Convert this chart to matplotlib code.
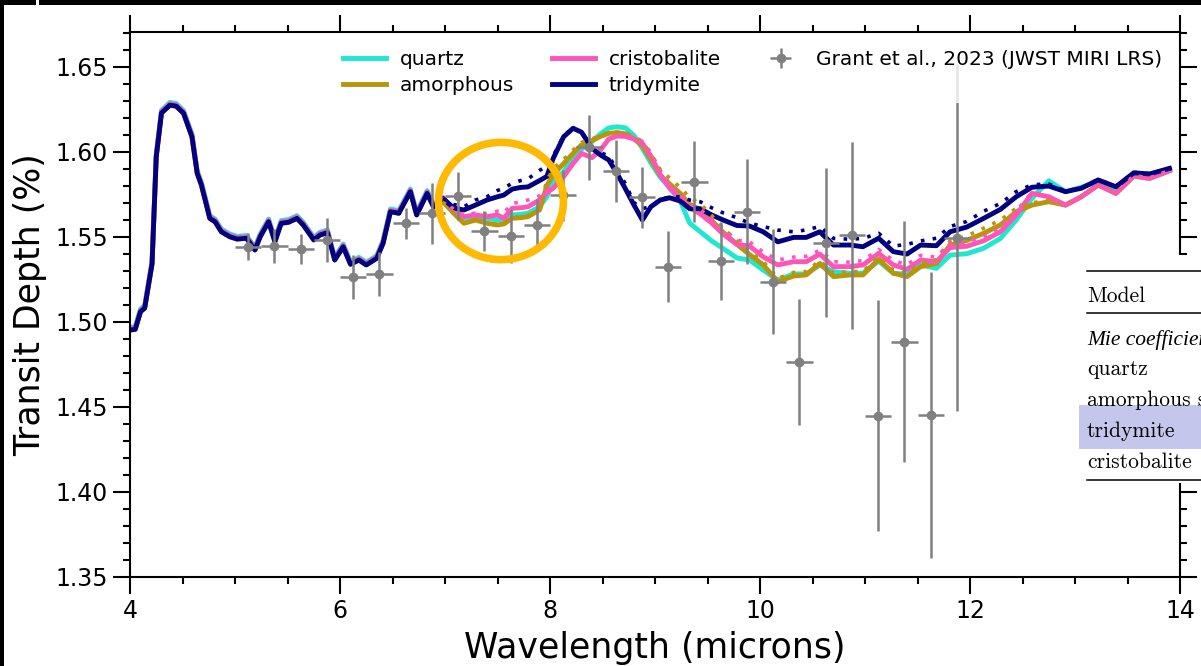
import numpy as np
import matplotlib.pyplot as plt
from matplotlib.patches import Ellipse, Rectangle
from matplotlib.lines import Line2D
from matplotlib.ticker import MultipleLocator, FormatStrFormatter

# model spectra: below 7 micron all four models overlap
wl_short = [4.00, 4.05, 4.10, 4.14, 4.21, 4.25, 4.30, 4.38, 4.44, 4.51,
            4.59, 4.64, 4.68, 4.76, 4.81, 4.87, 4.95, 5.02, 5.11, 5.19,
            5.24, 5.32, 5.38, 5.44, 5.51, 5.59, 5.65, 5.75, 5.81, 5.88,
            5.95, 6.03, 6.10, 6.18, 6.25, 6.35, 6.41, 6.48, 6.56, 6.67,
            6.73, 6.83, 6.89]
depth_short = [1.4951, 1.4955, 1.5059, 1.5080, 1.5340, 1.5970, 1.6228, 1.6274, 1.6268, 1.6226,
               1.6088, 1.5873, 1.5804, 1.5608, 1.5588, 1.5529, 1.5500, 1.5486, 1.5491, 1.5422,
               1.5500, 1.5588, 1.5471, 1.5579, 1.5585, 1.5608, 1.5569, 1.5481, 1.5510, 1.5524,
               1.5363, 1.5441, 1.5338, 1.5363, 1.5334, 1.5373, 1.5461, 1.5647, 1.5638, 1.5765,
               1.5628, 1.5755, 1.5676]
# quartz / cristobalite sit a hair above tridymite there
quartz_shift = 0.0016
cristobalite_shift = 0.0008

wl_long = [6.98, 7.08, 7.18, 7.29, 7.40, 7.50, 7.56, 7.64, 7.72, 7.79,
           7.90, 7.97, 8.03, 8.13, 8.22, 8.30, 8.40, 8.48, 8.56, 8.64,
           8.72, 8.80, 8.88, 8.96, 9.05, 9.14, 9.24, 9.33, 9.43, 9.54,
           9.65, 9.78, 9.90, 10.03, 10.17, 10.32, 10.44, 10.57, 10.70, 10.86,
           10.98, 11.13, 11.27, 11.40, 11.53, 11.68, 11.81, 11.97, 12.13, 12.29,
           12.44, 12.59, 12.75, 12.91, 13.06, 13.22, 13.39, 13.56, 13.71, 13.90]

quartz_long = [1.5728, 1.5655, 1.5608, 1.5618, 1.5608, 1.5598, 1.5600, 1.5628, 1.5632, 1.5638,
               1.5676, 1.5735, 1.5824, 1.5882, 1.5971, 1.6015, 1.6060, 1.6105, 1.6140, 1.6147,
               1.6140, 1.6095, 1.6020, 1.5935, 1.5850, 1.5787, 1.5710, 1.5580, 1.5530, 1.5475,
               1.5430, 1.5375, 1.5363, 1.5304, 1.5245, 1.5281, 1.5281, 1.5334, 1.5294, 1.5285,
               1.5285, 1.5357, 1.5285, 1.5280, 1.5334, 1.5314, 1.5392, 1.5400, 1.5432, 1.5490,
               1.5598, 1.5726, 1.5829, 1.5765, 1.5791, 1.5824, 1.5765, 1.5870, 1.5860, 1.5895]
amorphous_long = [1.5706, 1.5640, 1.5579, 1.5598, 1.5579, 1.5569, 1.5575, 1.5608, 1.5612, 1.5618,
                  1.5657, 1.5800, 1.5865, 1.5931, 1.5990, 1.6040, 1.6065, 1.6090, 1.6108, 1.6112,
                  1.6105, 1.6075, 1.6035, 1.5955, 1.5860, 1.5810, 1.5755, 1.5690, 1.5660, 1.5595,
                  1.5525, 1.5455, 1.5395, 1.5335, 1.5235, 1.5269, 1.5275, 1.5343, 1.5265, 1.5275,
                  1.5275, 1.5367, 1.5285, 1.5265, 1.5324, 1.5343, 1.5451, 1.5478, 1.5520, 1.5569,
                  1.5647, 1.5686, 1.5706, 1.5686, 1.5735, 1.5804, 1.5755, 1.5857, 1.5843, 1.5888]
cristobalite_long = [1.5730, 1.5660, 1.5618, 1.5628, 1.5618, 1.5628, 1.5608, 1.5667, 1.5670, 1.5676,
                     1.5716, 1.5760, 1.5785, 1.5853, 1.5931, 1.5990, 1.5965, 1.6010, 1.6075, 1.6092,
                     1.6090, 1.6075, 1.6050, 1.5975, 1.5865, 1.5785, 1.5725, 1.5670, 1.5635, 1.5580,
                     1.5515, 1.5455, 1.5445, 1.5382, 1.5334, 1.5353, 1.5353, 1.5398, 1.5324, 1.5324,
                     1.5334, 1.5402, 1.5334, 1.5308, 1.5363, 1.5353, 1.5436, 1.5444, 1.5476, 1.5529,
                     1.5628, 1.5755, 1.5735, 1.5686, 1.5735, 1.5804, 1.5755, 1.5857, 1.5843, 1.5888]
tridymite_long = [1.5726, 1.5670, 1.5657, 1.5686, 1.5716, 1.5735, 1.5745, 1.5780, 1.5790, 1.5793,
                  1.5830, 1.5855, 1.5960, 1.6088, 1.6138, 1.6115, 1.6020, 1.5981, 1.5951, 1.5870,
                  1.5780, 1.5686, 1.5598, 1.5676, 1.5716, 1.5729, 1.5710, 1.5665, 1.5665, 1.5628,
                  1.5598, 1.5566, 1.5563, 1.5529, 1.5470, 1.5496, 1.5496, 1.5529, 1.5451, 1.5451,
                  1.5441, 1.5491, 1.5412, 1.5398, 1.5451, 1.5447, 1.5529, 1.5557, 1.5608, 1.5661,
                  1.5735, 1.5791, 1.5798, 1.5765, 1.5785, 1.5834, 1.5794, 1.5876, 1.5869, 1.5902]

# dotted (second) model set
amorphous_dot = [1.5706, 1.5642, 1.5582, 1.5600, 1.5582, 1.5572, 1.5580, 1.5612, 1.5618, 1.5625,
                 1.5670, 1.5830, 1.5900, 1.5955, 1.6010, 1.6055, 1.6075, 1.6095, 1.6112, 1.6116,
                 1.6112, 1.6090, 1.6060, 1.5985, 1.5895, 1.5845, 1.5790, 1.5730, 1.5695, 1.5625,
                 1.5550, 1.5475, 1.5415, 1.5355, 1.5255, 1.5290, 1.5295, 1.5360, 1.5285, 1.5295,
                 1.5295, 1.5385, 1.5305, 1.5285, 1.5345, 1.5365, 1.5475, 1.5505, 1.5550, 1.5598,
                 1.5668, 1.5700, 1.5712, 1.5690, 1.5738, 1.5806, 1.5757, 1.5859, 1.5845, 1.5890]
cristobalite_dot = [1.5730, 1.5662, 1.5625, 1.5640, 1.5635, 1.5650, 1.5640, 1.5696, 1.5705, 1.5716,
                    1.5740, 1.5780, 1.5800, 1.5860, 1.5935, 1.5992, 1.5970, 1.6015, 1.6078, 1.6095,
                    1.6095, 1.6085, 1.6060, 1.5995, 1.5890, 1.5810, 1.5750, 1.5695, 1.5660, 1.5605,
                    1.5545, 1.5480, 1.5470, 1.5410, 1.5363, 1.5380, 1.5385, 1.5420, 1.5353, 1.5350,
                    1.5360, 1.5425, 1.5360, 1.5335, 1.5390, 1.5380, 1.5462, 1.5470, 1.5500, 1.5555,
                    1.5650, 1.5760, 1.5738, 1.5688, 1.5737, 1.5806, 1.5757, 1.5859, 1.5845, 1.5890]
tridymite_dot = [1.5726, 1.5690, 1.5676, 1.5716, 1.5735, 1.5772, 1.5785, 1.5815, 1.5830, 1.5840,
                 1.5890, 1.5915, 1.5975, 1.6095, 1.6138, 1.6115, 1.6025, 1.5995, 1.5975, 1.5890,
                 1.5810, 1.5700, 1.5665, 1.5678, 1.5718, 1.5735, 1.5735, 1.5716, 1.5706, 1.5670,
                 1.5640, 1.5612, 1.5580, 1.5560, 1.5539, 1.5529, 1.5540, 1.5560, 1.5490, 1.5485,
                 1.5490, 1.5520, 1.5445, 1.5455, 1.5475, 1.5491, 1.5560, 1.5590, 1.5650, 1.5696,
                 1.5765, 1.5806, 1.5810, 1.5768, 1.5787, 1.5836, 1.5796, 1.5878, 1.5871, 1.5903]

# Grant et al. 2023, JWST MIRI LRS
obs_wl = [5.125, 5.375, 5.625, 5.875, 6.125, 6.375, 6.625, 6.875, 7.125, 7.375,
          7.625, 7.875, 8.125, 8.375, 8.625, 8.875, 9.125, 9.375, 9.625, 9.875,
          10.125, 10.375, 10.625, 10.875, 11.125, 11.375, 11.625, 11.875]
obs_depth = [1.5441, 1.5447, 1.5428, 1.5481, 1.5265, 1.5281, 1.5579, 1.5638, 1.5739, 1.5534,
             1.5504, 1.5569, 1.5745, 1.6026, 1.5887, 1.5732, 1.5324, 1.5824, 1.5357, 1.5647,
             1.5235, 1.4765, 1.5465, 1.5510, 1.4447, 1.4882, 1.4451, 1.5494]
obs_err = [0.008, 0.010, 0.009, 0.013, 0.013, 0.013, 0.009, 0.018, 0.014, 0.012,
           0.016, 0.015, 0.015, 0.019, 0.018, 0.018, 0.021, 0.024, 0.023, 0.031,
           0.031, 0.037, 0.044, 0.055, 0.068, 0.071, 0.084, 0.102]
obs_wl_err = 0.125

colors = {'quartz': '#1ee8cf', 'amorphous': '#b8960c',
          'cristobalite': '#ff55b8', 'tridymite': '#000080'}

W, H = 1201, 666
fig = plt.figure(figsize=(W / 100, H / 100), dpi=100)
ax = fig.add_axes([130 / W, 1 - 576.7 / H, 1050 / W, 545 / H])

wl = np.array(wl_short + wl_long)
short = np.array(depth_short)
series = {
    'quartz': np.concatenate([short + quartz_shift, quartz_long]),
    'amorphous': np.concatenate([short, amorphous_long]),
    'cristobalite': np.concatenate([short + cristobalite_shift, cristobalite_long]),
    'tridymite': np.concatenate([short, tridymite_long]),
}
handles = []
for name in ['quartz', 'amorphous', 'cristobalite', 'tridymite']:
    ln, = ax.plot(wl, series[name], color=colors[name], lw=3.5, label=name, zorder=2)
    handles.append(ln)

dots = {'amorphous': amorphous_dot, 'cristobalite': cristobalite_dot,
        'tridymite': tridymite_dot}
for name, vals in dots.items():
    ax.plot(wl_long, vals, color=colors[name], lw=2.6, ls=(0, (1, 2.3)), zorder=2.5)

eb = ax.errorbar(obs_wl, obs_depth, yerr=obs_err, xerr=obs_wl_err, fmt='o', color='gray',
                 ms=6, elinewidth=1.8, capsize=0, zorder=4,
                 label='Grant et al., 2023 (JWST MIRI LRS)')
handles.append(eb)

# highlighted region
ax.add_patch(Ellipse((7.533, 1.571), 1.19, 0.0690, fill=False,
                     edgecolor='#ffb900', lw=5.5, zorder=10))

ax.set_xlim(4, 14)
ax.set_ylim(1.35, 1.6706)
ax.xaxis.set_major_locator(MultipleLocator(2))
ax.xaxis.set_minor_locator(MultipleLocator(0.5))
ax.yaxis.set_major_locator(MultipleLocator(0.05))
ax.yaxis.set_minor_locator(MultipleLocator(0.01))
ax.yaxis.set_major_formatter(FormatStrFormatter('%.2f'))
ax.tick_params(which='both', direction='out', top=True, right=True, width=1.5,
               labelsize=17)
ax.tick_params(which='major', length=12, pad=4)
ax.tick_params(which='minor', length=5)
for sp in ax.spines.values():
    sp.set_linewidth(1.5)

ax.set_xlabel('Wavelength (microns)', fontsize=25, labelpad=6)
ax.set_ylabel('Transit Depth (%)', fontsize=25, labelpad=6)

ax.legend(handles=handles, ncol=3, loc='upper right', fontsize=14.5,
          frameon=True, edgecolor='none', framealpha=0.8,
          handlelength=2.1, handletextpad=0.7, columnspacing=1.9,
          labelspacing=0.35)

# pasted table snippet on the right
def fx(px):
    return px / W

def fy(py):
    return 1 - py / H

fig.patches.append(Rectangle((fx(1070), fy(483)), fx(W - 1070), (483 - 255) / H,
                             transform=fig.transFigure, facecolor='white',
                             edgecolor='none', zorder=20))
fig.patches.append(Rectangle((fx(1079), fy(449)), fx(W - 1079), (449 - 405) / H,
                             transform=fig.transFigure, facecolor='#c4c6ec',
                             edgecolor='none', zorder=21))
for py in [270.7, 313.3, 480]:
    fig.add_artist(Line2D([fx(1087), 1.0], [fy(py), fy(py)], color='black',
                          lw=1.1, zorder=22))
table_rows = [('Model', 302, 'normal'), ('Mie coefficients', 345, 'italic'),
              ('quartz', 375, 'normal'), ('amorphous silica', 406, 'normal'),
              ('tridymite', 436.7, 'normal'), ('cristobalite', 468.3, 'normal')]
for txt, py, style in table_rows:
    if style == 'italic':
        fig.text(fx(1087), fy(py), txt, fontsize=15.5, family='Liberation Serif',
                 style='italic', va='baseline', zorder=23)
    else:
        fig.text(fx(1087), fy(py), txt, fontsize=15.5, family='cmr10',
                 va='baseline', zorder=23)

# black screenshot edges
fig.patches.append(Rectangle((0, fy(5)), fx(36), 5 / H, transform=fig.transFigure,
                             facecolor='black', edgecolor='none', zorder=30))
fig.patches.append(Rectangle((fx(39), fy(5)), 1, 5 / H, transform=fig.transFigure,
                             facecolor='black', edgecolor='none', zorder=30))
fig.patches.append(Rectangle((0, 0), fx(4), 1, transform=fig.transFigure,
                             facecolor='black', edgecolor='none', zorder=30))

fig.savefig('out.png', dpi=100)
